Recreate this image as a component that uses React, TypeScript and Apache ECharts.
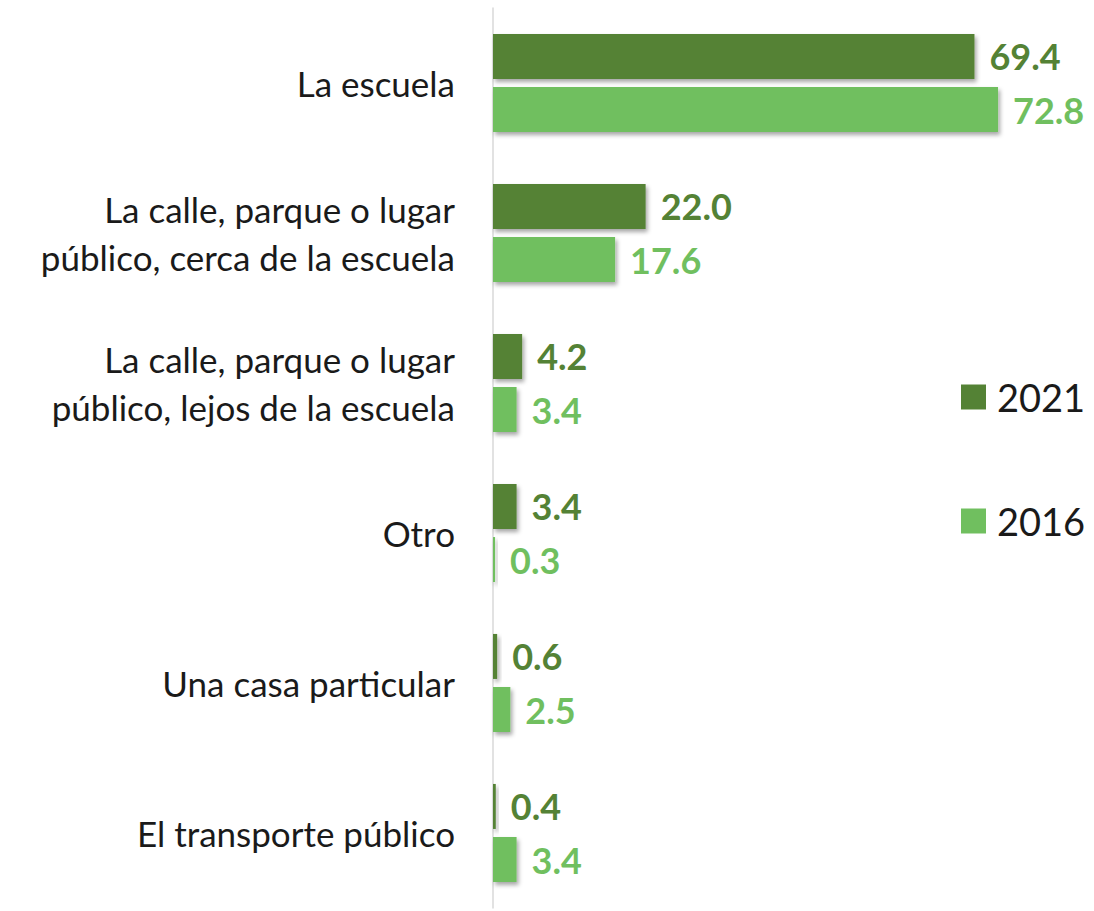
import React, { useEffect, useRef } from "react";
import * as echarts from "echarts";

const categories = [
  "La escuela",
  "La calle, parque o lugar\npúblico, cerca de la escuela",
  "La calle, parque o lugar\npúblico, lejos de la escuela",
  "Otro",
  "Una casa particular",
  "El transporte público",
];
const values2021 = [69.4, 22.0, 4.2, 3.4, 0.6, 0.4];
const values2016 = [72.8, 17.6, 3.4, 0.3, 2.5, 3.4];
const seriesNames = ["2021", "2016"];
const colors = ["#548235", "#70BF5F"];

const FONT = "Lato";

export default function App() {
  const ref = useRef<HTMLDivElement>(null);
  useEffect(() => {
    if (!ref.current) return;
    const chart = echarts.init(ref.current, undefined, { renderer: "svg" });
    const mk = (name: string, data: number[], color: string) => ({
      name,
      type: "bar",
      data,
      barWidth: 45,
      barGap: "18%",
      itemStyle: {
        color,
        shadowColor: "rgba(0,0,0,0.35)",
        shadowBlur: 4,
        shadowOffsetX: 2,
        shadowOffsetY: 3,
      },
      label: {
        show: true,
        position: "right",
        distance: 15,
        formatter: (p: any) => p.value.toFixed(1),
        color,
        fontFamily: FONT,
        fontWeight: "bold",
        fontSize: 36,
      },
    });
    chart.setOption({
      animation: false,
      grid: { left: 493, top: 8, width: 555, bottom: 3, containLabel: false },
      legend: {
        orient: "vertical",
        left: 961,
        top: 378,
        padding: 0,
        itemWidth: 25,
        itemHeight: 25,
        itemGap: 86,
        icon: "rect",
        textStyle: {
          fontFamily: FONT,
          fontSize: 38,
          lineHeight: 37,
          color: "#1a1a1a",
          padding: [0, 0, 0, 6],
        },
        data: seriesNames,
      },
      xAxis: {
        type: "value",
        min: 0,
        max: 80,
        show: false,
      },
      yAxis: {
        type: "category",
        data: categories,
        inverse: true,
        axisTick: { show: false },
        axisLine: { show: true, lineStyle: { color: "#d9d9d9", width: 1.5 } },
        axisLabel: {
          margin: 38,
          fontFamily: FONT,
          fontSize: 35,
          color: "#1a1a1a",
          lineHeight: 48,
          align: "right",
        },
        splitLine: { show: false },
      },
      series: [
        mk(seriesNames[0], values2021, colors[0]),
        mk(seriesNames[1], values2016, colors[1]),
      ],
    });
    return () => chart.dispose();
  }, []);
  return (
    <div
      ref={ref}
      style={{ position: "absolute", left: 0, top: 0, width: 1094, height: 911, background: "#fff" }}
    />
  );
}
